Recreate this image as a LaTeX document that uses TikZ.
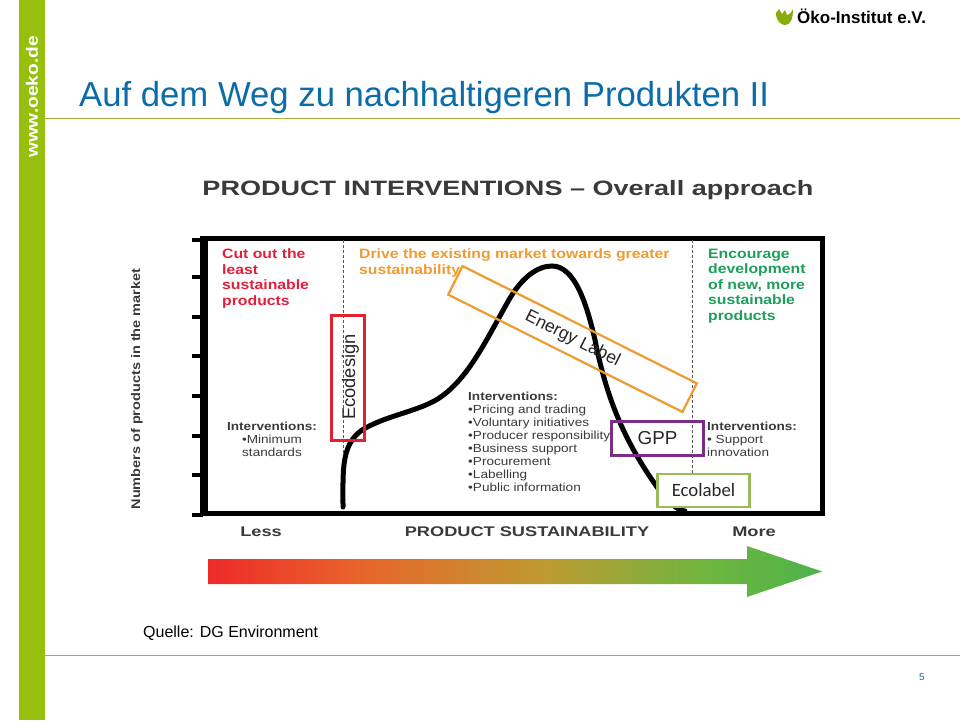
\documentclass[tikz,border=0pt]{standalone}
\usepackage{fontspec}
\setmainfont{Liberation Sans}
\newfontfamily\widefont[FakeStretch=1.16]{Liberation Sans}
\newfontfamily\widerfont[FakeStretch=1.3]{Liberation Sans}
\newfontfamily\labelfont{Carlito}
\definecolor{oekogreen}{HTML}{97BF0D}
\definecolor{rulegreen}{HTML}{A3B23A}
\definecolor{titleblue}{HTML}{0A6CA8}
\definecolor{cutred}{HTML}{E0203C}
\definecolor{driveorange}{HTML}{F09A30}
\definecolor{encgreen}{HTML}{1E9E5A}
\definecolor{boxred}{HTML}{E3202E}
\definecolor{boxpurple}{HTML}{7B2C86}
\definecolor{boxgreen}{HTML}{9BBB59}
\definecolor{inttext}{HTML}{3A3A3A}
\definecolor{arrowred}{HTML}{EE2A2A}
\definecolor{arroworange}{HTML}{E8652A}
\definecolor{arrowmid}{HTML}{BE9A30}
\definecolor{arrowlime}{HTML}{72B53F}
\definecolor{arrowgreen}{HTML}{4CB34A}
\pgfdeclarehorizontalshading{sustain}{100bp}{color(0bp)=(arrowred); color(25bp)=(arrowred); color(37.5bp)=(arroworange); color(52.5bp)=(arrowmid); color(65bp)=(arrowlime); color(75bp)=(arrowgreen); color(100bp)=(arrowgreen)}
\tikzset{
    head/.style={anchor=north west,align=left,inner sep=0pt,font=\widefont\bfseries\fontsize{13.6}{15.5}\selectfont},
    interv/.style={anchor=north west,align=left,inner sep=0pt,text=inttext,font=\widefont\fontsize{11.7}{13}\selectfont},
    axislabel/.style={inner sep=0pt,text=inttext,font=\widerfont\bfseries\fontsize{14}{16}\selectfont},
    tickmark/.style={line width=4pt},
    divider/.style={densely dashed,line width=0.6pt,gray!70!black},
    measure/.style={line width=2.6pt,inner sep=0pt,text=black!85},
}
\begin{document}
\begin{tikzpicture}[x=1pt,y=-1pt]
    \useasboundingbox (0,0) rectangle (960,720);
    % page frame
    \fill[oekogreen] (19,0) rectangle (45,720);
    \node[rotate=90,text=white,inner sep=0pt,font=\widefont\bfseries\fontsize{16.5}{18}\selectfont] (web) at (32,97) {www.oeko.de};
    \draw[rulegreen,line width=0.8pt] (45,118.5)--(960,118.5);
    \draw[rulegreen,line width=0.8pt] (45,655.5)--(960,655.5);
    \node[anchor=base west,inner sep=0pt,text=titleblue,font=\fontsize{34.7}{38}\selectfont] (title) at (79,106) {Auf dem Weg zu nachhaltigeren Produkten II};
    \node[text=titleblue,inner sep=0pt,font=\fontsize{10}{12}\selectfont] (pagenum) at (922,677) {5};
    \node[anchor=west,inner sep=0pt,font=\fontsize{16}{18}\selectfont] (source) at (143,633) {Quelle: DG Environment};
    % logo
    \fill[oekogreen!90!black] (776,13) .. controls (776,21) and (781,25) .. (785,25) .. controls (790,25) and (793,20) .. (793,9) .. controls (791,13) and (789,15) .. (787,15) -- (785,10) -- (782,14) -- (779,9) -- cycle;
    \node[anchor=base west,inner sep=0pt,font=\bfseries\fontsize{17}{19}\selectfont] (logo) at (797,23.5) {Öko-Institut e.V.};
    % chart
    \node[text=inttext,inner sep=0pt,font=\widerfont\bfseries\fontsize{20.8}{24}\selectfont] (chart) at (508,190) {PRODUCT INTERVENTIONS – Overall approach};
    \draw[line width=5pt] (205,238)--(822,238)--(822,513)--(205,513)--cycle;
    \draw[line width=6pt] (203,236)--(203,516);
    \foreach \y in {240,277,317,356,396,436,475,515}
        \draw[tickmark] (192,\y)--(203,\y);
    \draw[divider] (343,240)--(343,453);
    \draw[divider] (692,240)--(692,475);
    \draw[line width=5pt,line cap=round] (343,507) .. controls (343,470) and (341,445) .. (362,430) .. controls (385,416) and (415,412) .. (436,400) .. controls (468,381) and (487,338) .. (510,298) .. controls (522,278) and (537,266) .. (552,266) .. controls (575,266) and (587,305) .. (595,340) .. controls (605,390) and (620,435) .. (657,487) .. controls (665,498) and (675,510) .. (685,511);
    \node[head,text=cutred] (cutout) at (222,248.5) {Cut out the\\least\\sustainable\\products};
    \node[head,text=driveorange] (drive) at (359,248.5) {Drive the existing market towards greater\\sustainability};
    \node[head,text=encgreen] (encourage) at (708,248.5) {Encourage\\development\\of new, more\\sustainable\\products};
    \node[interv,anchor=north,align=center] (minimum) at (272,421.5) {\textbf{Interventions:}\\•Minimum\\standards};
    \node[interv] (market) at (468,391.5) {\textbf{Interventions:}\\•Pricing and trading\\•Voluntary initiatives\\•Producer responsibility\\•Business support\\•Procurement\\•Labelling\\•Public information};
    \node[interv] (support) at (707,421.5) {\textbf{Interventions:}\\• Support\\innovation};
    \node[axislabel,rotate=90,font=\widefont\bfseries\fontsize{12.5}{15}\selectfont] (yaxis) at (137,389) {Numbers of products in the market};
    \node[axislabel] (less) at (261,532) {Less};
    \node[axislabel] (xaxis) at (527,532) {PRODUCT SUSTAINABILITY};
    \node[axislabel] (more) at (754,532) {More};
    % boxes
    \node[draw=driveorange,line width=2.2pt,inner sep=0pt,minimum width=262pt,minimum height=32pt,rotate=-26.6,font=\fontsize{17.6}{20}\selectfont,text=black!85] (energy) at (572.5,339) {Energy Label};
    \node[draw=boxred,line width=2.6pt,inner sep=0pt,minimum width=33pt,minimum height=125pt] (ecodesignbox) at (348,378) {};
    \node[rotate=90,inner sep=0pt,text=black!85,font=\fontsize{18.3}{20}\selectfont] (ecodesign) at (350.5,377) {Ecodesign};
    \node[draw=boxpurple,line width=2.6pt,inner sep=0pt,minimum width=92pt,minimum height=34pt,text=black!85,font=\fontsize{18.8}{20}\selectfont] (gpp) at (657.5,438.5) {GPP};
    \node[measure,draw=boxgreen,fill=white,minimum width=92pt,minimum height=33pt,font=\labelfont\fontsize{18.8}{20}\selectfont] (ecolabel) at (703.5,490.5) {Ecolabel};
    % sustainability arrow
    \shade[shading=sustain] (208,559)--(747,559)--(747,546)--(822,571.5)--(747,597)--(747,584)--(208,584)--cycle;
\end{tikzpicture}
\end{document}
